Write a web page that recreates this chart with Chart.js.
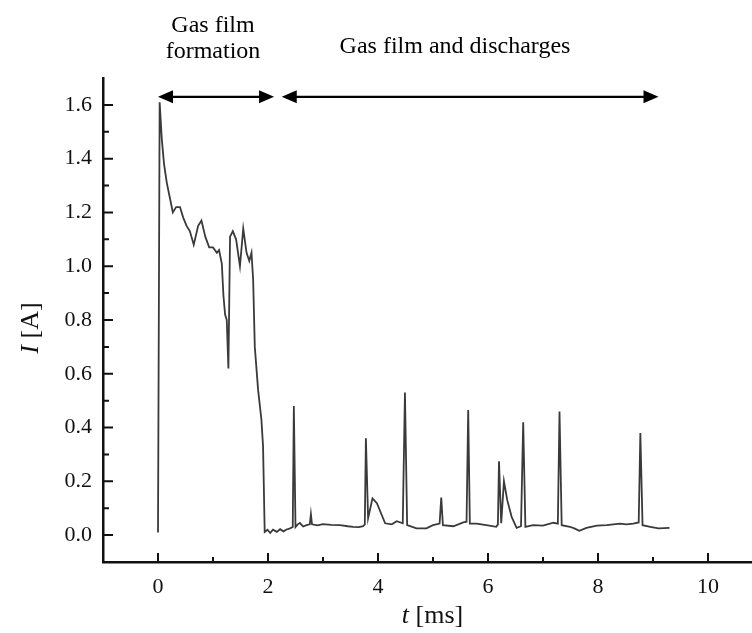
<!DOCTYPE html>
<html>
<head>
<meta charset="utf-8">
<title>Current transient</title>
<script src="https://cdn.jsdelivr.net/npm/chart.js@4.4.1/dist/chart.umd.min.js"></script>
<style>
  html, body { margin: 0; padding: 0; background: #fff; }
  #wrap { width: 752px; height: 633px; }
</style>
</head>
<body>
<div id="wrap"><canvas id="chart" width="752" height="633"></canvas></div>
<script>
// current trace: t in ms, I in A
const timeMs = [
  0.00, 0.03, 0.07, 0.11, 0.16, 0.22, 0.27, 0.33, 0.40, 0.46,
  0.52, 0.58, 0.65, 0.73, 0.79, 0.86, 0.93, 1.00, 1.07, 1.11,
  1.16, 1.19, 1.22, 1.25, 1.28, 1.31, 1.36, 1.42, 1.49, 1.55,
  1.61, 1.66, 1.70, 1.73, 1.76, 1.82, 1.88, 1.91, 1.94, 1.99,
  2.04, 2.09, 2.16, 2.22, 2.28, 2.34, 2.40, 2.45, 2.47, 2.50,
  2.54, 2.58, 2.64, 2.70, 2.76, 2.78, 2.80, 2.90, 3.00, 3.15,
  3.31, 3.45, 3.55, 3.65, 3.73, 3.76, 3.78, 3.82, 3.90, 3.98,
  4.13, 4.25, 4.34, 4.45, 4.49, 4.53, 4.70, 4.88, 5.00, 5.12,
  5.15, 5.18, 5.37, 5.55, 5.61, 5.64, 5.67, 5.79, 5.97, 6.15,
  6.18, 6.20, 6.24, 6.29, 6.35, 6.43, 6.52, 6.60, 6.64, 6.68,
  6.82, 7.00, 7.19, 7.27, 7.30, 7.34, 7.49, 7.58, 7.66, 7.79,
  7.98, 8.16, 8.40, 8.52, 8.64, 8.74, 8.77, 8.81, 8.95, 9.10,
  9.30
];
const currentA = [
  0.01, 1.61, 1.47, 1.38, 1.31, 1.25, 1.20, 1.22, 1.22, 1.18,
  1.15, 1.13, 1.08, 1.15, 1.17, 1.11, 1.07, 1.07, 1.05, 1.06,
  1.01, 0.89, 0.82, 0.80, 0.62, 1.11, 1.13, 1.10, 1.00, 1.14,
  1.05, 1.02, 1.05, 0.95, 0.70, 0.54, 0.43, 0.33, 0.012, 0.020,
  0.008, 0.020, 0.012, 0.022, 0.014, 0.021, 0.025, 0.030, 0.48, 0.030,
  0.040, 0.045, 0.032, 0.037, 0.040, 0.078, 0.040, 0.036, 0.041, 0.038,
  0.037, 0.033, 0.031, 0.030, 0.033, 0.040, 0.36, 0.063, 0.137, 0.119,
  0.044, 0.040, 0.052, 0.044, 0.53, 0.037, 0.025, 0.025, 0.037, 0.043,
  0.14, 0.037, 0.033, 0.047, 0.050, 0.465, 0.043, 0.043, 0.037, 0.031,
  0.040, 0.275, 0.044, 0.20, 0.13, 0.068, 0.027, 0.033, 0.42, 0.031,
  0.037, 0.035, 0.046, 0.043, 0.46, 0.037, 0.031, 0.024, 0.016, 0.027,
  0.035, 0.037, 0.043, 0.040, 0.043, 0.047, 0.38, 0.037, 0.031, 0.025,
  0.027
];

const xTicks = [0, 2, 4, 6, 8, 10];
const xMinorTicks = [1, 3, 5, 7, 9];
const yTicks = [0, 0.2, 0.4, 0.6, 0.8, 1.0, 1.2, 1.4, 1.6];
const yMinorTicks = [0.1, 0.3, 0.5, 0.7, 0.9, 1.1, 1.3, 1.5];

// the two phases, marked by double arrows above the trace
const phaseLabels = [["Gas film", "formation"], ["Gas film and discharges"]];
const phaseStart = [0, 2.25];
const phaseEnd = [2.11, 9.1];
const phaseLabelT = [1.0, 5.4];
const phaseLevel = 1.63;

const SERIF = "'Liberation Serif', 'DejaVu Serif', serif";

function arrowHead(ctx, tipX, y, dir) {
  ctx.beginPath();
  ctx.moveTo(tipX, y);
  ctx.lineTo(tipX - dir * 15, y - 6.5);
  ctx.lineTo(tipX - dir * 15, y + 6.5);
  ctx.closePath();
  ctx.fill();
}

const axisDecor = {
  id: 'axisDecor',
  afterDraw(chart) {
    const { ctx, chartArea: a, scales: { x, y } } = chart;
    ctx.save();

    // inward tick marks
    ctx.strokeStyle = '#111';
    ctx.lineWidth = 2;
    ctx.beginPath();
    xTicks.forEach(v => { const p = x.getPixelForValue(v); ctx.moveTo(p, a.bottom); ctx.lineTo(p, a.bottom - 9); });
    xMinorTicks.forEach(v => { const p = x.getPixelForValue(v); ctx.moveTo(p, a.bottom); ctx.lineTo(p, a.bottom - 5); });
    yTicks.forEach(v => { const p = y.getPixelForValue(v); ctx.moveTo(a.left, p); ctx.lineTo(a.left + 10, p); });
    yMinorTicks.forEach(v => { const p = y.getPixelForValue(v); ctx.moveTo(a.left, p); ctx.lineTo(a.left + 6, p); });
    ctx.stroke();

    // phase arrows
    ctx.fillStyle = '#000';
    ctx.strokeStyle = '#000';
    ctx.lineWidth = 2.2;
    const ay = y.getPixelForValue(phaseLevel);
    phaseStart.forEach((t0, i) => {
      const x0 = x.getPixelForValue(t0);
      const x1 = x.getPixelForValue(phaseEnd[i]);
      ctx.beginPath();
      ctx.moveTo(x0 + 12, ay);
      ctx.lineTo(x1 - 12, ay);
      ctx.stroke();
      arrowHead(ctx, x0, ay, -1);
      arrowHead(ctx, x1, ay, 1);
    });

    // phase labels
    ctx.font = '24px ' + SERIF;
    ctx.textAlign = 'center';
    ctx.textBaseline = 'alphabetic';
    ctx.fillText(phaseLabels[0][0], x.getPixelForValue(phaseLabelT[0]), 32);
    ctx.fillText(phaseLabels[0][1], x.getPixelForValue(phaseLabelT[0]), 58);
    ctx.fillText(phaseLabels[1][0], x.getPixelForValue(phaseLabelT[1]), 53);

    // axis titles with italic symbols
    const italic = 'italic 26px ' + SERIF;
    const upright = '26px ' + SERIF;
    ctx.fillStyle = '#111';
    ctx.textAlign = 'left';

    ctx.font = italic;
    const tw = ctx.measureText('t').width;
    ctx.font = upright;
    const uw = ctx.measureText(' [ms]').width;
    let sx = (a.left + a.right) / 2 + 5 - (tw + uw) / 2;
    ctx.font = italic;
    ctx.fillText('t', sx, 623);
    ctx.font = upright;
    ctx.fillText(' [ms]', sx + tw, 623);

    ctx.save();
    ctx.translate(38, (a.top + a.bottom) / 2 + 8);
    ctx.rotate(-Math.PI / 2);
    ctx.font = italic;
    const iw = ctx.measureText('I').width;
    ctx.font = upright;
    const aw = ctx.measureText(' [A]').width;
    sx = -(iw + aw) / 2;
    ctx.font = italic;
    ctx.fillText('I', sx, 0);
    ctx.font = upright;
    ctx.fillText(' [A]', sx + iw, 0);
    ctx.restore();

    ctx.restore();
  }
};

new Chart(document.getElementById('chart'), {
  type: 'line',
  data: {
    datasets: [{
      label: 'I',
      data: timeMs.map((t, i) => ({ x: t, y: currentA[i] })),
      borderColor: '#3a3a3a',
      borderWidth: 1.8,
      pointRadius: 0,
      tension: 0,
      fill: false
    }]
  },
  options: {
    responsive: false,
    animation: false,
    devicePixelRatio: 1,
    layout: { padding: { top: 78, right: 0, bottom: 0, left: 0 } },
    plugins: { legend: { display: false }, tooltip: { enabled: false } },
    scales: {
      x: {
        type: 'linear',
        min: -1,
        max: 10.8,
        afterFit: s => { s.height = 71; },
        afterBuildTicks: s => { s.ticks = xTicks.map(v => ({ value: v })); },
        border: { display: true, color: '#111', width: 2.5 },
        grid: { display: false, drawTicks: false },
        ticks: {
          padding: 12,
          color: '#111',
          font: { family: SERIF, size: 22 },
          callback: v => String(v)
        }
      },
      y: {
        min: -0.1,
        max: 1.7,
        afterFit: s => { s.width = 103; },
        afterBuildTicks: s => { s.ticks = yTicks.map(v => ({ value: v })); },
        border: { display: true, color: '#111', width: 2.5 },
        grid: { display: false, drawTicks: false },
        ticks: {
          padding: 11,
          color: '#111',
          font: { family: SERIF, size: 22 },
          callback: v => v.toFixed(1)
        }
      }
    }
  },
  plugins: [axisDecor]
});
</script>
</body>
</html>
